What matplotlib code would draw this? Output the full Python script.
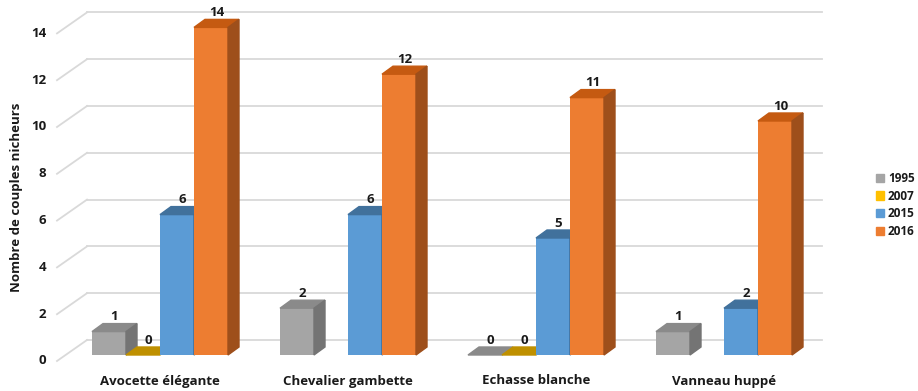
import matplotlib.pyplot as plt
from matplotlib.patches import Polygon, Patch

species = ["Avocette élégante", "Chevalier gambette", "Echasse blanche", "Vanneau huppé"]
years = ["1995", "2007", "2015", "2016"]
v1995 = [1, 2, 0, 1]
v2007 = [0, None, 0, None]
v2015 = [6, 6, 5, 2]
v2016 = [14, 12, 11, 10]
series = [v1995, v2007, v2015, v2016]
yticks = [0, 2, 4, 6, 8, 10, 12, 14]

front = ["#a5a5a5", "#c49a00", "#5b9bd5", "#ed7d31"]
top = ["#8a8a8a", "#bf9000", "#41719c", "#c55a11"]
side = ["#747474", "#8f6c00", "#3c6a95", "#9e4f1b"]
legend_col = ["#a5a5a5", "#ffc000", "#5b9bd5", "#ed7d31"]

# pixel scale of the picture (x per category, y per unit)
SX = 188.0
SY = 23.4
w = 34 / SX
dx = 11 / SX
dy = 8 / SY
txt = "#1a1a1a"
plt.rcParams['font.family'] = ['Open Sans', 'DejaVu Sans']

fig = plt.figure(figsize=(9.18, 3.91), dpi=100)
ax = fig.add_axes([0, 0, 1, 1])
ax.set_xlim(-160 / SX, (918 - 160) / SX)
ax.set_ylim(-36 / SY, 355 / SY)
ax.axis('off')

# back wall gridlines + left wall diagonals
xw0 = (57 - 160) / SX
xw1 = (87 - 160) / SX
xend = (822 - 160) / SX
for t in yticks:
    ax.plot([xw1, xend], [t + 15 / SY, t + 15 / SY], color="#d9d9d9", lw=1.3, zorder=1)
    ax.plot([xw0, xw1], [t - 6 / SY, t + 15 / SY], color="#d9d9d9", lw=1.3, zorder=1)
    ax.text((46 - 160) / SX, t - 6 / SY, str(t), ha='right', va='center',
            fontsize=9.5, fontweight='bold', color=txt)

# 3D-looking bars
for i, vals in enumerate(series):
    for j, v in enumerate(vals):
        if v is None:
            continue
        x0 = j + (i - 1.5) * w - w / 2
        z = 3 + i
        ax.bar(x0, v, width=w, align='edge', color=front[i], zorder=z)
        ax.add_patch(Polygon([(x0, v), (x0 + w, v), (x0 + w + dx, v + dy), (x0 + dx, v + dy)],
                             closed=True, color=top[i], zorder=z))
        if v > 0:
            ax.add_patch(Polygon([(x0 + w, 0), (x0 + w + dx, dy), (x0 + w + dx, v + dy), (x0 + w, v)],
                                 closed=True, color=side[i], zorder=z))
        ax.text(x0 + w / 2 + dx / 2, v + dy + 0.02, str(v), ha='center', va='bottom',
                fontsize=9.5, fontweight='bold', color=txt, zorder=10)

for j, name in enumerate(species):
    ax.text(j, -26 / SY, name, ha='center', va='center', fontsize=9.5,
            fontweight='bold', color=txt)

ax.text((17 - 160) / SX, (355 - 197) / SY, "Nombre de couples nicheurs", rotation=90,
        ha='center', va='center', fontsize=9.5, fontweight='bold', color=txt)

handles = [Patch(color=c) for c in legend_col]
leg = ax.legend(handles, years, loc='center left', bbox_to_anchor=(876 / 918, 1 - 205 / 391),
                frameon=False, handlelength=0.7, handleheight=0.7, handletextpad=0.3,
                labelspacing=0.4, borderpad=0, borderaxespad=0,
                prop={'size': 8.5, 'weight': 'bold'})
for t in leg.get_texts():
    t.set_color(txt)

fig.savefig("out.png", dpi=100)
